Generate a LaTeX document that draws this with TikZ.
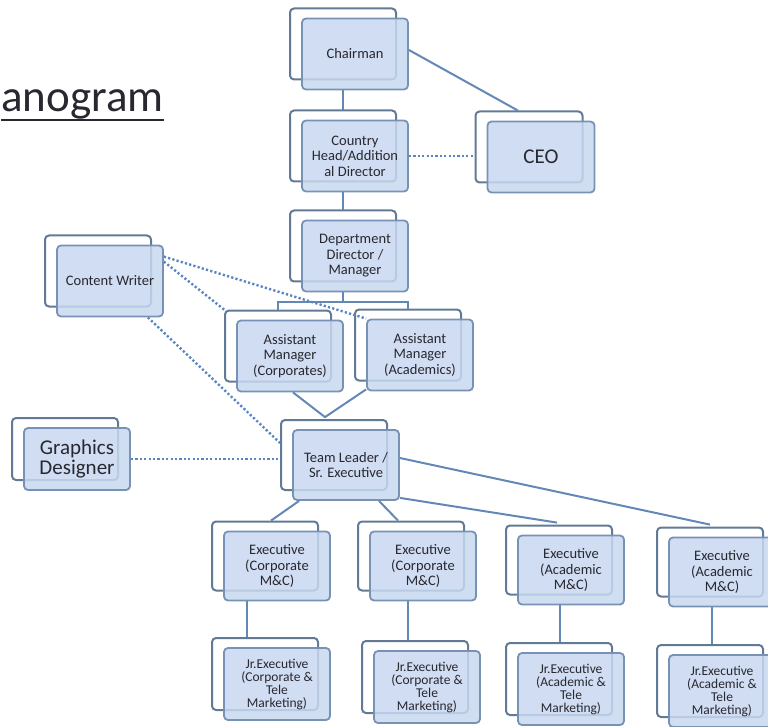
\documentclass[tikz,border=0pt]{standalone}
\usepackage{fontspec}
\setmainfont{Carlito}
\usetikzlibrary{shadows}
\definecolor{cardfill}{RGB}{200,216,240}
\definecolor{cardline}{RGB}{120,146,182}
\definecolor{backline}{RGB}{98,122,150}
\definecolor{linkcol}{RGB}{100,136,182}
\definecolor{dotcol}{RGB}{88,134,196}
\definecolor{inkcol}{RGB}{40,40,48}
\tikzset{
	card/.style = {
			draw=cardline, line width=1.8pt, fill=cardfill, fill opacity=0.85, text opacity=1,
			rounded corners=4pt, minimum width=106pt, minimum height=71pt, inner sep=1pt,
			align=center, text=inkcol, font=\fontsize{14.5}{15.5}\selectfont,
			copy shadow={shadow xshift=-12pt, shadow yshift=10pt, opacity=1, fill=white, draw=backline, line width=2pt}
		},
	bigcard/.style = {card, font=\fontsize{21}{20}\selectfont},
	jrcard/.style = {card, minimum height=72pt, font=\fontsize{13.5}{13}\selectfont},
	link/.style = {draw=linkcol, line width=2pt},
	dotlink/.style = {draw=dotcol, line width=2.4pt, dash pattern=on 2.2pt off 2.2pt}
}

\begin{document}
\begin{tikzpicture}[x=1pt, y=-1pt]
	\useasboundingbox (0,0) rectangle (768,727);
	% ====== Title ========
	\node[anchor=base east, inner sep=0, text=inkcol, font=\fontsize{45}{45}\selectfont] (title) at (164,112) {anogram};
	\draw[inkcol, line width=1.5pt] ([yshift=-8pt]title.base west) -- ([yshift=-8pt]title.base east);
	% ====== Top ========
	\node[card] (chair) at (355,54) {Chairman};
	\node[card] (head) at (355,156) {Country\\Head/Addition\\al Director};
	\node[bigcard, minimum width=107pt] (ceo) at (541,157) {CEO};
	\node[card] (dept) at (355,256) {Department\\Director /\\Manager};
	\node[card] (writer) at (110,281) {Content Writer};
	\node[card] (amcorp) at (290,356) {Assistant\\Manager\\(Corporates)};
	\node[card] (amacad) at (420,355) {Assistant\\Manager\\(Academics)};
	\node[card, minimum height=70pt] (lead) at (346,465) {Team Leader /\\Sr. Executive};
	\node[bigcard, minimum height=62pt] (graph) at (77,459) {Graphics\\Designer};
	% ====== Executives ========
	\foreach \n/\x/\y/\kind in {1/277/566/Corporate, 2/423/566/Corporate, 3/571/570/Academic, 4/722/572/Academic}
		\node[card, minimum height=69pt] (exec\n) at (\x,\y) {Executive\\(\kind\\M\&C)};
	\foreach \n/\x/\y/\kind in {1/277/684/Corporate, 2/427/687/Corporate, 3/571/689/Academic, 4/722/691/Academic}
		\node[jrcard] (jr\n) at (\x,\y) {Jr.Executive\\(\kind{} \&\\Tele\\Marketing)};

	% ====== Links ========
	\draw[link] ([xshift=-12pt]chair.south) -- ([xshift=-12pt,yshift=10pt]head.north);
	\draw[link] ([yshift=4pt]chair.east) -- ([xshift=-23pt,yshift=10pt]ceo.north);
	\draw[link] ([xshift=-12pt]head.south) -- ([xshift=-12pt,yshift=10pt]dept.north);
	\draw[link] ([xshift=-12pt]dept.south) -- ++(0,10) coordinate (fork);
	\draw[link] ([xshift=-12pt,yshift=10pt]amcorp.north) |- (fork) -| ([xshift=-12pt,yshift=10pt]amacad.north);
	\draw[link] ([xshift=3pt]amcorp.south) -- ([xshift=-21pt,yshift=12pt]lead.north) -- ([yshift=2pt]amacad.south west);
	\draw[link] ([xshift=7pt]lead.south west) -- ([xshift=-6pt,yshift=10pt]exec1.north);
	\draw[link] ([xshift=33pt]lead.south) -- ([xshift=-25pt,yshift=10pt]exec2.north);
	\draw[link] ([yshift=3pt]lead.south east) -- ([xshift=-14pt,yshift=12pt]exec3.north);
	\draw[link] ([yshift=7pt]lead.east) -- ([xshift=-12pt,yshift=12pt]exec4.north);
	\foreach \n/\a/\b in {1/-30/-30, 2/-15/-19, 3/-11/-11, 4/-10/-10}
		\draw[link] ([xshift=\a pt]exec\n.south) -- ([xshift=\b pt,yshift=10pt]jr\n.north);
	% ====== Dotted ========
	\draw[dotlink] (head.east) -- ([xshift=-12pt]ceo.west |- head.east);
	\draw[dotlink] ([yshift=-12pt]writer.north east) -- (amacad.north west);
	\draw[dotlink] ([yshift=-17pt]writer.north east) -- ([xshift=-12pt,yshift=10pt]amcorp.north west);
	\draw[dotlink] ([xshift=-16pt]writer.south east) -- ([xshift=-12pt,yshift=22pt]lead.west);
	\draw[dotlink] (graph.east) -- ([xshift=-12pt]lead.west |- graph.east);
\end{tikzpicture}
\end{document}
